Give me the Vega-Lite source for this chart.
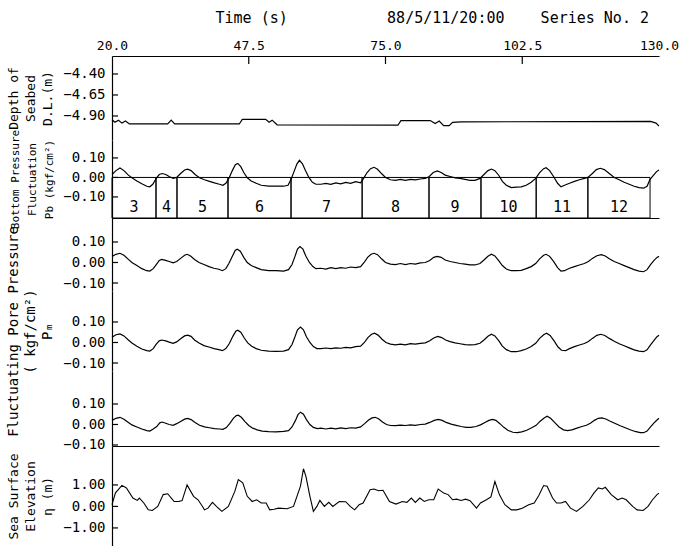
{
  "$schema": "https://vega.github.io/schema/vega-lite/v6.json",
  "padding": {"left": 6, "top": 10, "right": 0, "bottom": 0},
  "spacing": 0,
  "bounds": "flush",
  "config": {
    "view": {"stroke": null},
    "font": "DejaVu Sans Mono",
    "axis": {"domainColor": "black", "domainWidth": 1.2, "ticks": false, "labelColor": "black", "titleColor": "black", "grid": false, "labelFont": "DejaVu Sans Mono", "titleFont": "DejaVu Sans Mono", "labelFontSize": 14, "titleFontSize": 13, "titleFontWeight": "normal", "labelFlush": false, "labelOverlap": false, "labelBound": false},
    "axisY": {"labelPadding": 7, "titleLineHeight": 17, "titlePadding": 8},
    "line": {"color": "black", "strokeWidth": 1.2},
    "rule": {"color": "black"},
    "tick": {"color": "black", "thickness": 1.2, "opacity": 1},
    "text": {"font": "DejaVu Sans Mono", "fontSize": 13, "color": "black"}
  },
  "datasets": {
    "seabed": [
      {"t": 20.0, "v": -4.945}, {"t": 20.6, "v": -4.975}, {"t": 21.3, "v": -4.95}, {"t": 22.0, "v": -4.985}, {"t": 22.7, "v": -4.96}, {"t": 23.5, "v": -4.995},
      {"t": 31.2, "v": -4.995}, {"t": 31.9, "v": -4.95}, {"t": 32.6, "v": -4.995}, {"t": 45.6, "v": -4.995}, {"t": 46.2, "v": -4.94}, {"t": 50.9, "v": -4.94},
      {"t": 51.6, "v": -4.975}, {"t": 52.2, "v": -4.95}, {"t": 53.2, "v": -5.005}, {"t": 77.5, "v": -5.01}, {"t": 78.1, "v": -4.955}, {"t": 84.0, "v": -4.955},
      {"t": 85.0, "v": -4.99}, {"t": 85.8, "v": -4.96}, {"t": 86.7, "v": -5.015}, {"t": 87.8, "v": -5.015}, {"t": 88.5, "v": -4.975}, {"t": 90.2, "v": -4.97},
      {"t": 128.3, "v": -4.965}, {"t": 129.4, "v": -4.985}, {"t": 130.0, "v": -5.02}
    ],
    "waves": [
      {"n": "3", "start": 20, "end": 28.85}, {"n": "4", "start": 28.85, "end": 33.07}, {"n": "5", "start": 33.07, "end": 43.33},
      {"n": "6", "start": 43.33, "end": 56.0}, {"n": "7", "start": 56.0, "end": 70.3}, {"n": "8", "start": 70.3, "end": 83.75},
      {"n": "9", "start": 83.75, "end": 94.2}, {"n": "10", "start": 94.2, "end": 105.3}, {"n": "11", "start": 105.3, "end": 115.7},
      {"n": "12", "start": 115.7, "end": 128.2}
    ],
    "timeTicks": [{"t": 47.5}, {"t": 75}, {"t": 102.5}],
    "seabedTicks": [{"v": -4.4}, {"v": -4.65}, {"v": -4.9}],
    "pTicks": [{"v": 0.1}, {"v": 0}, {"v": -0.1}],
    "seaTicks": [{"v": 1}, {"v": 0}, {"v": -1}],
    "bottom": [
      {"t": 20.0, "v": 0.015}, {"t": 20.8, "v": 0.035}, {"t": 21.6, "v": 0.048}, {"t": 22.4, "v": 0.035}, {"t": 23.3, "v": 0.012}, {"t": 24.0, "v": -0.002},
      {"t": 25.0, "v": -0.018}, {"t": 26.0, "v": -0.032}, {"t": 27.0, "v": -0.045}, {"t": 27.6, "v": -0.048}, {"t": 28.2, "v": -0.035}, {"t": 28.9, "v": -0.005},
      {"t": 29.5, "v": 0.015}, {"t": 30.1, "v": 0.02}, {"t": 30.8, "v": 0.015}, {"t": 31.5, "v": 0.005}, {"t": 32.3, "v": -0.005}, {"t": 33.0, "v": 0.0},
      {"t": 33.8, "v": 0.02}, {"t": 34.6, "v": 0.038}, {"t": 35.2, "v": 0.042}, {"t": 35.9, "v": 0.035}, {"t": 36.7, "v": 0.015}, {"t": 37.6, "v": -0.002},
      {"t": 38.6, "v": -0.012}, {"t": 39.6, "v": -0.02}, {"t": 40.6, "v": -0.028}, {"t": 41.6, "v": -0.035}, {"t": 42.3, "v": -0.04}, {"t": 42.9, "v": -0.03},
      {"t": 43.5, "v": -0.005}, {"t": 44.2, "v": 0.035}, {"t": 44.8, "v": 0.065}, {"t": 45.3, "v": 0.072}, {"t": 45.9, "v": 0.055}, {"t": 46.5, "v": 0.025},
      {"t": 47.2, "v": -0.002}, {"t": 48.0, "v": -0.018}, {"t": 49.0, "v": -0.03}, {"t": 50.0, "v": -0.04}, {"t": 51.5, "v": -0.045}, {"t": 53.0, "v": -0.045},
      {"t": 54.5, "v": -0.045}, {"t": 55.4, "v": -0.04}, {"t": 56.0, "v": -0.01}, {"t": 56.6, "v": 0.03}, {"t": 57.2, "v": 0.07}, {"t": 57.7, "v": 0.088},
      {"t": 58.3, "v": 0.07}, {"t": 58.9, "v": 0.035}, {"t": 59.6, "v": 0.0}, {"t": 60.3, "v": -0.025}, {"t": 61.0, "v": -0.035}, {"t": 62.0, "v": -0.035},
      {"t": 63.0, "v": -0.03}, {"t": 64.0, "v": -0.035}, {"t": 65.0, "v": -0.028}, {"t": 66.0, "v": -0.033}, {"t": 67.0, "v": -0.025}, {"t": 68.0, "v": -0.03},
      {"t": 69.0, "v": -0.022}, {"t": 70.0, "v": -0.028}, {"t": 70.6, "v": -0.005}, {"t": 71.3, "v": 0.025}, {"t": 72.0, "v": 0.045}, {"t": 72.7, "v": 0.052},
      {"t": 73.4, "v": 0.042}, {"t": 74.2, "v": 0.02}, {"t": 75.0, "v": 0.0}, {"t": 76.0, "v": -0.012}, {"t": 77.0, "v": -0.015}, {"t": 78.0, "v": -0.01},
      {"t": 79.0, "v": -0.015}, {"t": 80.0, "v": -0.01}, {"t": 81.0, "v": -0.012}, {"t": 82.0, "v": -0.008}, {"t": 83.0, "v": -0.005}, {"t": 83.8, "v": 0.005},
      {"t": 84.6, "v": 0.025}, {"t": 85.4, "v": 0.033}, {"t": 86.2, "v": 0.025}, {"t": 87.0, "v": 0.012}, {"t": 88.0, "v": 0.005}, {"t": 89.0, "v": -0.002},
      {"t": 90.0, "v": -0.005}, {"t": 91.0, "v": -0.01}, {"t": 92.0, "v": -0.015}, {"t": 93.0, "v": -0.015}, {"t": 94.0, "v": -0.005}, {"t": 94.8, "v": 0.015},
      {"t": 95.6, "v": 0.035}, {"t": 96.3, "v": 0.043}, {"t": 97.0, "v": 0.035}, {"t": 97.8, "v": 0.01}, {"t": 98.5, "v": -0.02}, {"t": 99.3, "v": -0.04},
      {"t": 100.3, "v": -0.052}, {"t": 101.3, "v": -0.05}, {"t": 102.3, "v": -0.048}, {"t": 103.3, "v": -0.04}, {"t": 104.3, "v": -0.025}, {"t": 105.2, "v": -0.005},
      {"t": 106.0, "v": 0.025}, {"t": 106.8, "v": 0.045}, {"t": 107.3, "v": 0.05}, {"t": 108.0, "v": 0.035}, {"t": 108.8, "v": 0.005}, {"t": 109.6, "v": -0.03},
      {"t": 110.3, "v": -0.048}, {"t": 111.0, "v": -0.04}, {"t": 112.0, "v": -0.03}, {"t": 113.0, "v": -0.02}, {"t": 114.0, "v": -0.012}, {"t": 115.0, "v": -0.005},
      {"t": 115.7, "v": 0.0}, {"t": 116.6, "v": 0.02}, {"t": 117.4, "v": 0.04}, {"t": 118.2, "v": 0.047}, {"t": 119.0, "v": 0.04}, {"t": 120.0, "v": 0.02},
      {"t": 121.0, "v": 0.0}, {"t": 122.0, "v": -0.012}, {"t": 123.0, "v": -0.025}, {"t": 124.0, "v": -0.035}, {"t": 125.0, "v": -0.045}, {"t": 126.0, "v": -0.052},
      {"t": 126.9, "v": -0.055}, {"t": 127.6, "v": -0.045}, {"t": 128.2, "v": -0.01}, {"t": 129.0, "v": 0.015}, {"t": 129.5, "v": 0.03}, {"t": 130.0, "v": 0.038}
    ],
    "pore015": [
      {"t": 20.0, "v": 0.03}, {"t": 20.8, "v": 0.04}, {"t": 21.6, "v": 0.045}, {"t": 22.4, "v": 0.035}, {"t": 23.3, "v": 0.015}, {"t": 24.0, "v": 0.0},
      {"t": 25.0, "v": -0.015}, {"t": 26.0, "v": -0.03}, {"t": 27.0, "v": -0.04}, {"t": 27.6, "v": -0.042}, {"t": 28.3, "v": -0.03}, {"t": 28.9, "v": -0.01},
      {"t": 29.5, "v": 0.01}, {"t": 30.0, "v": 0.015}, {"t": 30.8, "v": 0.01}, {"t": 31.5, "v": 0.005}, {"t": 32.3, "v": -0.002}, {"t": 33.0, "v": 0.005},
      {"t": 33.8, "v": 0.02}, {"t": 34.6, "v": 0.035}, {"t": 35.1, "v": 0.04}, {"t": 35.8, "v": 0.032}, {"t": 36.6, "v": 0.015}, {"t": 37.5, "v": 0.0},
      {"t": 38.5, "v": -0.01}, {"t": 39.5, "v": -0.02}, {"t": 40.5, "v": -0.028}, {"t": 41.5, "v": -0.033}, {"t": 42.2, "v": -0.04}, {"t": 42.9, "v": -0.03},
      {"t": 43.5, "v": -0.005}, {"t": 44.2, "v": 0.03}, {"t": 44.8, "v": 0.06}, {"t": 45.2, "v": 0.065}, {"t": 45.8, "v": 0.055}, {"t": 46.5, "v": 0.025},
      {"t": 47.2, "v": 0.0}, {"t": 48.0, "v": -0.015}, {"t": 49.0, "v": -0.025}, {"t": 50.0, "v": -0.035}, {"t": 51.5, "v": -0.04}, {"t": 53.0, "v": -0.04},
      {"t": 54.5, "v": -0.042}, {"t": 55.5, "v": -0.035}, {"t": 56.2, "v": -0.01}, {"t": 56.8, "v": 0.03}, {"t": 57.3, "v": 0.065}, {"t": 57.8, "v": 0.078},
      {"t": 58.4, "v": 0.065}, {"t": 59.0, "v": 0.03}, {"t": 59.7, "v": 0.0}, {"t": 60.4, "v": -0.02}, {"t": 61.0, "v": -0.03}, {"t": 62.0, "v": -0.028},
      {"t": 63.0, "v": -0.032}, {"t": 64.0, "v": -0.025}, {"t": 65.0, "v": -0.03}, {"t": 66.0, "v": -0.025}, {"t": 67.0, "v": -0.028}, {"t": 68.0, "v": -0.022},
      {"t": 69.0, "v": -0.025}, {"t": 70.0, "v": -0.02}, {"t": 70.7, "v": 0.0}, {"t": 71.4, "v": 0.025}, {"t": 72.1, "v": 0.04}, {"t": 72.7, "v": 0.045},
      {"t": 73.4, "v": 0.038}, {"t": 74.2, "v": 0.018}, {"t": 75.0, "v": 0.0}, {"t": 76.0, "v": -0.008}, {"t": 77.0, "v": -0.01}, {"t": 78.0, "v": -0.005},
      {"t": 79.0, "v": -0.01}, {"t": 80.0, "v": -0.005}, {"t": 81.0, "v": -0.008}, {"t": 82.0, "v": -0.002}, {"t": 83.0, "v": 0.0}, {"t": 83.9, "v": 0.01},
      {"t": 84.7, "v": 0.025}, {"t": 85.4, "v": 0.03}, {"t": 86.2, "v": 0.025}, {"t": 87.0, "v": 0.012}, {"t": 88.0, "v": 0.005}, {"t": 89.0, "v": 0.0},
      {"t": 90.0, "v": -0.005}, {"t": 91.0, "v": -0.008}, {"t": 92.0, "v": -0.012}, {"t": 93.0, "v": -0.012}, {"t": 94.0, "v": -0.005}, {"t": 94.8, "v": 0.012},
      {"t": 95.6, "v": 0.03}, {"t": 96.3, "v": 0.04}, {"t": 97.0, "v": 0.032}, {"t": 97.8, "v": 0.008}, {"t": 98.5, "v": -0.015}, {"t": 99.3, "v": -0.032},
      {"t": 100.3, "v": -0.04}, {"t": 101.3, "v": -0.04}, {"t": 102.3, "v": -0.038}, {"t": 103.3, "v": -0.03}, {"t": 104.3, "v": -0.02}, {"t": 105.2, "v": -0.005},
      {"t": 106.0, "v": 0.018}, {"t": 106.8, "v": 0.035}, {"t": 107.3, "v": 0.04}, {"t": 108.0, "v": 0.03}, {"t": 108.8, "v": 0.005}, {"t": 109.6, "v": -0.025},
      {"t": 110.3, "v": -0.042}, {"t": 111.0, "v": -0.04}, {"t": 112.0, "v": -0.028}, {"t": 113.0, "v": -0.02}, {"t": 114.0, "v": -0.012}, {"t": 115.0, "v": -0.005},
      {"t": 115.8, "v": 0.005}, {"t": 116.6, "v": 0.02}, {"t": 117.5, "v": 0.033}, {"t": 118.4, "v": 0.038}, {"t": 119.2, "v": 0.032}, {"t": 120.0, "v": 0.018},
      {"t": 121.0, "v": 0.005}, {"t": 122.0, "v": -0.005}, {"t": 123.0, "v": -0.015}, {"t": 124.0, "v": -0.025}, {"t": 125.0, "v": -0.035}, {"t": 126.0, "v": -0.042},
      {"t": 126.9, "v": -0.045}, {"t": 127.6, "v": -0.035}, {"t": 128.3, "v": -0.01}, {"t": 129.0, "v": 0.01}, {"t": 129.6, "v": 0.025}, {"t": 130.0, "v": 0.03}
    ],
    "pore065": [
      {"t": 20.0, "v": 0.025}, {"t": 20.8, "v": 0.038}, {"t": 21.6, "v": 0.042}, {"t": 22.4, "v": 0.032}, {"t": 23.3, "v": 0.012}, {"t": 24.0, "v": -0.002},
      {"t": 25.0, "v": -0.018}, {"t": 26.0, "v": -0.032}, {"t": 27.0, "v": -0.04}, {"t": 27.6, "v": -0.042}, {"t": 28.3, "v": -0.03}, {"t": 28.9, "v": -0.008},
      {"t": 29.5, "v": 0.008}, {"t": 30.0, "v": 0.012}, {"t": 30.8, "v": 0.008}, {"t": 31.5, "v": 0.002}, {"t": 32.3, "v": -0.004}, {"t": 33.0, "v": 0.003},
      {"t": 33.8, "v": 0.018}, {"t": 34.6, "v": 0.032}, {"t": 35.2, "v": 0.036}, {"t": 35.9, "v": 0.03}, {"t": 36.6, "v": 0.012}, {"t": 37.5, "v": -0.003},
      {"t": 38.5, "v": -0.015}, {"t": 39.5, "v": -0.022}, {"t": 40.5, "v": -0.03}, {"t": 41.5, "v": -0.035}, {"t": 42.2, "v": -0.04}, {"t": 42.9, "v": -0.03},
      {"t": 43.6, "v": -0.005}, {"t": 44.3, "v": 0.03}, {"t": 44.9, "v": 0.055}, {"t": 45.3, "v": 0.06}, {"t": 45.9, "v": 0.05}, {"t": 46.6, "v": 0.022},
      {"t": 47.3, "v": -0.002}, {"t": 48.1, "v": -0.018}, {"t": 49.0, "v": -0.03}, {"t": 50.0, "v": -0.038}, {"t": 51.5, "v": -0.042}, {"t": 53.0, "v": -0.043},
      {"t": 54.5, "v": -0.042}, {"t": 55.5, "v": -0.035}, {"t": 56.2, "v": -0.01}, {"t": 56.8, "v": 0.028}, {"t": 57.3, "v": 0.062}, {"t": 57.9, "v": 0.075},
      {"t": 58.5, "v": 0.062}, {"t": 59.1, "v": 0.028}, {"t": 59.8, "v": 0.0}, {"t": 60.5, "v": -0.02}, {"t": 61.2, "v": -0.03}, {"t": 62.0, "v": -0.03},
      {"t": 63.0, "v": -0.027}, {"t": 64.0, "v": -0.03}, {"t": 65.0, "v": -0.026}, {"t": 66.0, "v": -0.028}, {"t": 67.0, "v": -0.024}, {"t": 68.0, "v": -0.026},
      {"t": 69.0, "v": -0.02}, {"t": 70.0, "v": -0.018}, {"t": 70.8, "v": 0.002}, {"t": 71.5, "v": 0.025}, {"t": 72.2, "v": 0.04}, {"t": 72.8, "v": 0.045},
      {"t": 73.5, "v": 0.036}, {"t": 74.3, "v": 0.016}, {"t": 75.1, "v": 0.0}, {"t": 76.0, "v": -0.008}, {"t": 77.0, "v": -0.012}, {"t": 78.0, "v": -0.008},
      {"t": 79.0, "v": -0.012}, {"t": 80.0, "v": -0.006}, {"t": 81.0, "v": -0.008}, {"t": 82.0, "v": -0.004}, {"t": 83.0, "v": -0.002}, {"t": 83.9, "v": 0.008},
      {"t": 84.7, "v": 0.022}, {"t": 85.5, "v": 0.03}, {"t": 86.3, "v": 0.024}, {"t": 87.1, "v": 0.012}, {"t": 88.0, "v": 0.004}, {"t": 89.0, "v": -0.002},
      {"t": 90.0, "v": -0.006}, {"t": 91.0, "v": -0.01}, {"t": 92.0, "v": -0.012}, {"t": 93.0, "v": -0.01}, {"t": 94.0, "v": -0.004}, {"t": 94.8, "v": 0.012},
      {"t": 95.6, "v": 0.03}, {"t": 96.3, "v": 0.04}, {"t": 97.0, "v": 0.032}, {"t": 97.8, "v": 0.008}, {"t": 98.5, "v": -0.018}, {"t": 99.3, "v": -0.035},
      {"t": 100.3, "v": -0.045}, {"t": 101.3, "v": -0.045}, {"t": 102.3, "v": -0.04}, {"t": 103.3, "v": -0.032}, {"t": 104.3, "v": -0.02}, {"t": 105.2, "v": -0.004},
      {"t": 106.0, "v": 0.02}, {"t": 106.8, "v": 0.038}, {"t": 107.4, "v": 0.045}, {"t": 108.1, "v": 0.034}, {"t": 108.9, "v": 0.008}, {"t": 109.7, "v": -0.022},
      {"t": 110.4, "v": -0.038}, {"t": 111.2, "v": -0.04}, {"t": 112.0, "v": -0.03}, {"t": 113.0, "v": -0.02}, {"t": 114.0, "v": -0.012}, {"t": 115.0, "v": -0.005},
      {"t": 115.8, "v": 0.005}, {"t": 116.6, "v": 0.02}, {"t": 117.5, "v": 0.035}, {"t": 118.3, "v": 0.04}, {"t": 119.1, "v": 0.034}, {"t": 120.0, "v": 0.02},
      {"t": 121.0, "v": 0.006}, {"t": 122.0, "v": -0.006}, {"t": 123.0, "v": -0.016}, {"t": 124.0, "v": -0.026}, {"t": 125.0, "v": -0.036}, {"t": 126.0, "v": -0.042},
      {"t": 126.9, "v": -0.045}, {"t": 127.6, "v": -0.036}, {"t": 128.3, "v": -0.012}, {"t": 129.0, "v": 0.01}, {"t": 129.6, "v": 0.028}, {"t": 130.0, "v": 0.035}
    ],
    "pore115": [
      {"t": 20.0, "v": 0.02}, {"t": 20.8, "v": 0.03}, {"t": 21.6, "v": 0.035}, {"t": 22.4, "v": 0.026}, {"t": 23.3, "v": 0.01}, {"t": 24.0, "v": -0.002},
      {"t": 25.0, "v": -0.012}, {"t": 26.0, "v": -0.022}, {"t": 27.0, "v": -0.03}, {"t": 27.6, "v": -0.032}, {"t": 28.3, "v": -0.022}, {"t": 29.0, "v": -0.01},
      {"t": 29.6, "v": 0.008}, {"t": 30.1, "v": 0.012}, {"t": 30.8, "v": 0.006}, {"t": 31.5, "v": 0.0}, {"t": 32.3, "v": -0.004}, {"t": 33.0, "v": 0.004},
      {"t": 33.8, "v": 0.015}, {"t": 34.6, "v": 0.026}, {"t": 35.2, "v": 0.03}, {"t": 35.9, "v": 0.024}, {"t": 36.7, "v": 0.01}, {"t": 37.6, "v": -0.004},
      {"t": 38.6, "v": -0.012}, {"t": 39.6, "v": -0.016}, {"t": 40.6, "v": -0.02}, {"t": 41.6, "v": -0.022}, {"t": 42.3, "v": -0.024}, {"t": 43.0, "v": -0.015},
      {"t": 43.7, "v": 0.005}, {"t": 44.4, "v": 0.03}, {"t": 45.0, "v": 0.043}, {"t": 45.4, "v": 0.045}, {"t": 46.0, "v": 0.035}, {"t": 46.7, "v": 0.015},
      {"t": 47.5, "v": -0.005}, {"t": 48.3, "v": -0.018}, {"t": 49.2, "v": -0.026}, {"t": 50.2, "v": -0.032}, {"t": 51.5, "v": -0.035}, {"t": 53.0, "v": -0.036},
      {"t": 54.5, "v": -0.034}, {"t": 55.5, "v": -0.03}, {"t": 56.2, "v": -0.012}, {"t": 56.9, "v": 0.02}, {"t": 57.4, "v": 0.048}, {"t": 57.9, "v": 0.06},
      {"t": 58.5, "v": 0.05}, {"t": 59.1, "v": 0.024}, {"t": 59.8, "v": 0.0}, {"t": 60.5, "v": -0.014}, {"t": 61.3, "v": -0.02}, {"t": 62.0, "v": -0.018},
      {"t": 63.0, "v": -0.022}, {"t": 64.0, "v": -0.018}, {"t": 65.0, "v": -0.021}, {"t": 66.0, "v": -0.017}, {"t": 67.0, "v": -0.02}, {"t": 68.0, "v": -0.016},
      {"t": 69.0, "v": -0.018}, {"t": 70.0, "v": -0.012}, {"t": 70.8, "v": 0.004}, {"t": 71.6, "v": 0.022}, {"t": 72.3, "v": 0.032}, {"t": 72.9, "v": 0.035},
      {"t": 73.6, "v": 0.028}, {"t": 74.4, "v": 0.012}, {"t": 75.2, "v": 0.0}, {"t": 76.0, "v": -0.005}, {"t": 77.0, "v": -0.006}, {"t": 78.0, "v": -0.003},
      {"t": 79.0, "v": -0.005}, {"t": 80.0, "v": -0.002}, {"t": 81.0, "v": -0.004}, {"t": 82.0, "v": 0.0}, {"t": 83.0, "v": 0.002}, {"t": 83.9, "v": 0.01},
      {"t": 84.8, "v": 0.02}, {"t": 85.6, "v": 0.025}, {"t": 86.4, "v": 0.02}, {"t": 87.2, "v": 0.01}, {"t": 88.2, "v": 0.002}, {"t": 89.2, "v": -0.004},
      {"t": 90.2, "v": -0.01}, {"t": 91.2, "v": -0.014}, {"t": 92.2, "v": -0.014}, {"t": 93.2, "v": -0.01}, {"t": 94.1, "v": -0.002}, {"t": 95.0, "v": 0.01},
      {"t": 95.8, "v": 0.02}, {"t": 96.5, "v": 0.025}, {"t": 97.2, "v": 0.02}, {"t": 98.0, "v": 0.004}, {"t": 98.8, "v": -0.014}, {"t": 99.6, "v": -0.028},
      {"t": 100.6, "v": -0.038}, {"t": 101.5, "v": -0.04}, {"t": 102.4, "v": -0.036}, {"t": 103.4, "v": -0.028}, {"t": 104.4, "v": -0.016}, {"t": 105.3, "v": -0.004},
      {"t": 106.1, "v": 0.016}, {"t": 106.9, "v": 0.032}, {"t": 107.5, "v": 0.04}, {"t": 108.2, "v": 0.03}, {"t": 109.0, "v": 0.01}, {"t": 109.9, "v": -0.012},
      {"t": 110.8, "v": -0.026}, {"t": 111.6, "v": -0.03}, {"t": 112.5, "v": -0.026}, {"t": 113.5, "v": -0.018}, {"t": 114.5, "v": -0.01}, {"t": 115.4, "v": -0.004},
      {"t": 116.2, "v": 0.006}, {"t": 117.0, "v": 0.02}, {"t": 117.8, "v": 0.03}, {"t": 118.5, "v": 0.032}, {"t": 119.3, "v": 0.027}, {"t": 120.2, "v": 0.016},
      {"t": 121.2, "v": 0.005}, {"t": 122.2, "v": -0.006}, {"t": 123.2, "v": -0.016}, {"t": 124.2, "v": -0.026}, {"t": 125.2, "v": -0.034}, {"t": 126.2, "v": -0.04},
      {"t": 126.9, "v": -0.04}, {"t": 127.6, "v": -0.032}, {"t": 128.3, "v": -0.012}, {"t": 129.0, "v": 0.008}, {"t": 129.6, "v": 0.022}, {"t": 130.0, "v": 0.03}
    ],
    "sea": [
      {"t": 20.0, "v": 0.08}, {"t": 20.7, "v": 0.63}, {"t": 22.0, "v": 0.98}, {"t": 22.9, "v": 0.86}, {"t": 24.2, "v": 0.39}, {"t": 25.1, "v": 0.28},
      {"t": 25.5, "v": 0.39}, {"t": 26.4, "v": 0.16}, {"t": 27.3, "v": -0.16}, {"t": 28.1, "v": -0.19}, {"t": 29.2, "v": 0.0}, {"t": 30.3, "v": 0.55},
      {"t": 31.2, "v": 0.59}, {"t": 32.1, "v": 0.34}, {"t": 32.5, "v": 0.23}, {"t": 33.4, "v": 0.23}, {"t": 34.1, "v": 0.27}, {"t": 35.1, "v": 1.0},
      {"t": 36.4, "v": 0.47}, {"t": 37.3, "v": 0.31}, {"t": 38.2, "v": 0.0}, {"t": 38.6, "v": -0.16}, {"t": 39.3, "v": -0.08}, {"t": 40.2, "v": 0.19},
      {"t": 41.0, "v": 0.0}, {"t": 42.1, "v": -0.23}, {"t": 43.4, "v": 0.0}, {"t": 44.7, "v": 0.7}, {"t": 45.4, "v": 1.25}, {"t": 46.3, "v": 1.1},
      {"t": 47.2, "v": 0.47}, {"t": 48.2, "v": 0.23}, {"t": 49.1, "v": 0.31}, {"t": 50.0, "v": 0.16}, {"t": 51.0, "v": 0.16}, {"t": 51.7, "v": -0.16},
      {"t": 52.6, "v": -0.13}, {"t": 53.5, "v": -0.08}, {"t": 55.2, "v": -0.11}, {"t": 56.5, "v": 0.0}, {"t": 57.9, "v": 0.94}, {"t": 58.5, "v": 1.75},
      {"t": 59.0, "v": 1.4}, {"t": 59.8, "v": 0.47}, {"t": 60.5, "v": -0.23}, {"t": 61.2, "v": 0.0}, {"t": 61.8, "v": 0.28}, {"t": 62.7, "v": 0.0},
      {"t": 63.6, "v": 0.19}, {"t": 64.4, "v": 0.0}, {"t": 65.7, "v": 0.23}, {"t": 67.0, "v": 0.22}, {"t": 67.9, "v": 0.0}, {"t": 68.8, "v": -0.16},
      {"t": 69.7, "v": 0.08}, {"t": 70.5, "v": 0.16}, {"t": 71.9, "v": 0.78}, {"t": 72.7, "v": 0.81}, {"t": 73.6, "v": 0.73}, {"t": 74.5, "v": 0.75},
      {"t": 75.8, "v": 0.23}, {"t": 77.1, "v": 0.11}, {"t": 78.4, "v": 0.23}, {"t": 79.3, "v": 0.19}, {"t": 80.2, "v": 0.39}, {"t": 81.0, "v": 0.19},
      {"t": 81.9, "v": 0.39}, {"t": 82.8, "v": 0.23}, {"t": 83.7, "v": 0.31}, {"t": 84.7, "v": 0.31}, {"t": 85.6, "v": 0.81}, {"t": 86.7, "v": 0.62},
      {"t": 87.6, "v": 0.55}, {"t": 88.5, "v": 0.31}, {"t": 89.3, "v": 0.34}, {"t": 90.2, "v": 0.28}, {"t": 91.1, "v": 0.34}, {"t": 92.0, "v": 0.27},
      {"t": 93.3, "v": -0.08}, {"t": 94.1, "v": 0.16}, {"t": 95.3, "v": 0.31}, {"t": 96.2, "v": 0.44}, {"t": 97.0, "v": 1.16}, {"t": 97.9, "v": 0.55},
      {"t": 99.0, "v": 0.08}, {"t": 100.3, "v": -0.16}, {"t": 101.4, "v": -0.16}, {"t": 102.5, "v": -0.08}, {"t": 103.8, "v": 0.08}, {"t": 104.9, "v": 0.16},
      {"t": 105.8, "v": 0.5}, {"t": 106.8, "v": 0.97}, {"t": 107.5, "v": 0.94}, {"t": 108.6, "v": 0.39}, {"t": 109.4, "v": 0.16}, {"t": 110.3, "v": 0.16},
      {"t": 111.2, "v": 0.23}, {"t": 112.2, "v": -0.08}, {"t": 113.4, "v": -0.23}, {"t": 114.7, "v": 0.0}, {"t": 116.0, "v": 0.31}, {"t": 116.9, "v": 0.62},
      {"t": 117.8, "v": 0.86}, {"t": 118.6, "v": 0.81}, {"t": 119.2, "v": 0.89}, {"t": 120.4, "v": 0.55}, {"t": 121.7, "v": 0.31}, {"t": 122.6, "v": 0.39},
      {"t": 123.4, "v": 0.31}, {"t": 124.7, "v": 0.0}, {"t": 125.6, "v": -0.16}, {"t": 126.8, "v": -0.19}, {"t": 127.8, "v": 0.0}, {"t": 128.7, "v": 0.31},
      {"t": 129.6, "v": 0.55}, {"t": 130.0, "v": 0.62}
    ]
  },
  "vconcat": [
    {
      "width": 547, "height": 84,
      "layer": [
        {
          "data": {"name": "seabed"},
          "mark": {"type": "line"},
          "encoding": {
            "x": {"field": "t", "type": "quantitative", "scale": {"domain": [20, 130], "nice": false, "zero": false},
                  "axis": {"orient": "top", "values": [20, 47.5, 75, 102.5, 130], "tickCount": 20, "format": ".1f", "labelPadding": 4, "labelFontSize": 13,
                           "title": "Time (s)\u00a0\u00a0\u00a0\u00a0\u00a0\u00a0\u00a0\u00a0\u00a0\u00a0\u00a088/5/11/20:00\u00a0\u00a0\u00a0\u00a0Series No. 2",
                           "titleFontSize": 15, "titleX": 103, "titleY": -39, "titleAlign": "left", "titleAnchor": "start", "titleBaseline": "middle", "titleAngle": 0}},
            "y": {"field": "v", "type": "quantitative", "scale": {"domain": [-5.186, -4.186], "nice": false, "zero": false},
                  "axis": {"values": [-4.4, -4.65, -4.9], "tickCount": 20, "format": ".2f", "title": ["Depth of", "Seabed", "D.L.(m)"]}}
          }
        },
        {"data": {"name": "seabedTicks"}, "mark": {"type": "tick", "orient": "horizontal", "size": 6, "xOffset": 3}, "encoding": {"x": {"datum": 20}, "y": {"field": "v", "type": "quantitative"}}},
        {"data": {"name": "timeTicks"}, "mark": {"type": "tick", "orient": "vertical", "size": 8, "yOffset": 4}, "encoding": {"x": {"field": "t", "type": "quantitative"}, "y": {"datum": -4.186}}},
        {"mark": {"type": "rule", "strokeWidth": 1.2}, "encoding": {"x": {"datum": 130}}}
      ]
    },
    {
      "width": 547, "height": 78,
      "layer": [
        {
          "data": {"name": "waves"},
          "mark": {"type": "rect", "fillOpacity": 0, "stroke": "black", "strokeWidth": 1},
          "encoding": {
            "x": {"field": "start", "type": "quantitative", "scale": {"domain": [20, 130], "nice": false, "zero": false},
                  "axis": {"orient": "bottom", "labels": false, "title": null}},
            "x2": {"field": "end"},
            "y": {"datum": 0, "type": "quantitative"},
            "y2": {"datum": -0.208}
          }
        },
        {
          "data": {"name": "waves"},
          "transform": [{"calculate": "(datum.start + datum.end) / 2", "as": "mid"}],
          "mark": {"type": "text", "fontSize": 15, "baseline": "middle", "align": "center"},
          "encoding": {
            "x": {"field": "mid", "type": "quantitative", "title": null},
            "y": {"datum": -0.15, "type": "quantitative"},
            "text": {"field": "n"}
          }
        },
        {"mark": {"type": "rule", "strokeWidth": 0.8, "color": "#333"}, "encoding": {"y": {"datum": 0}}},
        {
          "data": {"name": "bottom"},
          "mark": {"type": "line"},
          "encoding": {
            "x": {"field": "t", "type": "quantitative", "title": null},
            "y": {"field": "v", "type": "quantitative", "scale": {"domain": [-0.208, 0.192], "nice": false, "zero": false},
                  "axis": {"values": [0.1, 0, -0.1], "tickCount": 20, "format": ".2f", "titleFontSize": 11, "title": ["Bottom Pressure", "Fluctuation", "Pb (kgf/cm²)"]}}
          }
        },
        {"data": {"name": "pTicks"}, "mark": {"type": "tick", "orient": "horizontal", "size": 6, "xOffset": 3}, "encoding": {"x": {"datum": 20}, "y": {"field": "v", "type": "quantitative"}}},
        {"mark": {"type": "text", "align": "left", "baseline": "middle"}, "encoding": {"x": {"datum": 27.7}, "y": {"datum": 0.167}, "text": {"value": "Depth : +0.35m"}}},
        {"mark": {"type": "rule", "strokeWidth": 1.2}, "encoding": {"x": {"datum": 130}}}
      ]
    },
    {
      "width": 547, "height": 73,
      "layer": [
        {"mark": {"type": "rule", "strokeWidth": 0.8, "color": "#333"}, "encoding": {"y": {"datum": 0}}},
        {
          "data": {"name": "pore015"},
          "mark": {"type": "line"},
          "encoding": {
            "x": {"field": "t", "type": "quantitative", "scale": {"domain": [20, 130], "nice": false, "zero": false}, "axis": null},
            "y": {"field": "v", "type": "quantitative", "scale": {"domain": [-0.139, 0.217], "nice": false, "zero": false},
                  "axis": {"values": [0.1, 0, -0.1], "tickCount": 20, "format": ".2f", "title": null}}
          }
        },
        {"data": {"name": "pTicks"}, "mark": {"type": "tick", "orient": "horizontal", "size": 6, "xOffset": 3}, "encoding": {"x": {"datum": 20, "axis": null}, "y": {"field": "v", "type": "quantitative"}}},
        {"mark": {"type": "text", "align": "left", "baseline": "middle"}, "encoding": {"x": {"datum": 27.7, "axis": null}, "y": {"datum": 0.124}, "text": {"value": "Depth: -0.15m"}}},
        {"mark": {"type": "text", "align": "left", "baseline": "middle"}, "encoding": {"x": {"datum": 64.9, "axis": null}, "y": {"datum": 0.124}, "text": {"value": "Wave : No"}}},
        {"mark": {"type": "rule", "strokeWidth": 1.2}, "encoding": {"x": {"datum": 130, "axis": null}}}
      ]
    },
    {
      "width": 547, "height": 80,
      "layer": [
        {"mark": {"type": "rule", "strokeWidth": 0.8, "color": "#333"}, "encoding": {"y": {"datum": 0}}},
        {
          "data": {"name": "pore065"},
          "mark": {"type": "line"},
          "encoding": {
            "x": {"field": "t", "type": "quantitative", "scale": {"domain": [20, 130], "nice": false, "zero": false}, "axis": null},
            "y": {"field": "v", "type": "quantitative", "scale": {"domain": [-0.139, 0.251], "nice": false, "zero": false},
                  "axis": {"values": [0.1, 0, -0.1], "tickCount": 20, "format": ".2f", "titleFontSize": 14, "title": ["Fluctuating Pore Pressure", "( kgf/cm²)", "Pₘ"]}}
          }
        },
        {"data": {"name": "pTicks"}, "mark": {"type": "tick", "orient": "horizontal", "size": 6, "xOffset": 3}, "encoding": {"x": {"datum": 20, "axis": null}, "y": {"field": "v", "type": "quantitative"}}},
        {"mark": {"type": "text", "align": "left", "baseline": "middle"}, "encoding": {"x": {"datum": 27.7, "axis": null}, "y": {"datum": 0.207}, "text": {"value": "Depth: -0.65m"}}},
        {"mark": {"type": "rule", "strokeWidth": 1.2}, "encoding": {"x": {"datum": 130, "axis": null}}}
      ]
    },
    {
      "width": 547, "height": 75,
      "layer": [
        {"mark": {"type": "rule", "strokeWidth": 0.8, "color": "#333"}, "encoding": {"y": {"datum": 0}}},
        {
          "data": {"name": "pore115"},
          "mark": {"type": "line"},
          "encoding": {
            "x": {"field": "t", "type": "quantitative", "scale": {"domain": [20, 130], "nice": false, "zero": false},
                  "axis": {"orient": "bottom", "labels": false, "title": null}},
            "y": {"field": "v", "type": "quantitative", "scale": {"domain": [-0.105, 0.261], "nice": false, "zero": false},
                  "axis": {"values": [0.1, 0, -0.1], "tickCount": 20, "format": ".2f", "title": null}}
          }
        },
        {"data": {"name": "pTicks"}, "mark": {"type": "tick", "orient": "horizontal", "size": 6, "xOffset": 3}, "encoding": {"x": {"datum": 20}, "y": {"field": "v", "type": "quantitative"}}},
        {"mark": {"type": "text", "align": "left", "baseline": "middle"}, "encoding": {"x": {"datum": 27.7}, "y": {"datum": 0.217}, "text": {"value": "Depth: -1.15m"}}},
        {"mark": {"type": "rule", "strokeWidth": 1.2}, "encoding": {"x": {"datum": 130}}}
      ]
    },
    {
      "width": 547, "height": 100,
      "layer": [
        {"mark": {"type": "rule", "strokeWidth": 0.8, "color": "#333"}, "encoding": {"y": {"datum": 0}}},
        {
          "data": {"name": "sea"},
          "mark": {"type": "line", "strokeWidth": 1.1},
          "encoding": {
            "x": {"field": "t", "type": "quantitative", "scale": {"domain": [20, 130], "nice": false, "zero": false},
                  "axis": {"orient": "bottom", "labels": false, "title": null}},
            "y": {"field": "v", "type": "quantitative", "scale": {"domain": [-1.84, 2.81], "nice": false, "zero": false},
                  "axis": {"values": [1, 0, -1], "tickCount": 20, "format": ".2f", "title": ["Sea Surface", "Elevation", "η (m)"]}}
          }
        },
        {"data": {"name": "seaTicks"}, "mark": {"type": "tick", "orient": "horizontal", "size": 6, "xOffset": 3}, "encoding": {"x": {"datum": 20}, "y": {"field": "v", "type": "quantitative"}}},
        {"mark": {"type": "rule", "strokeWidth": 1.2}, "encoding": {"x": {"datum": 130}}}
      ]
    }
  ]
}
